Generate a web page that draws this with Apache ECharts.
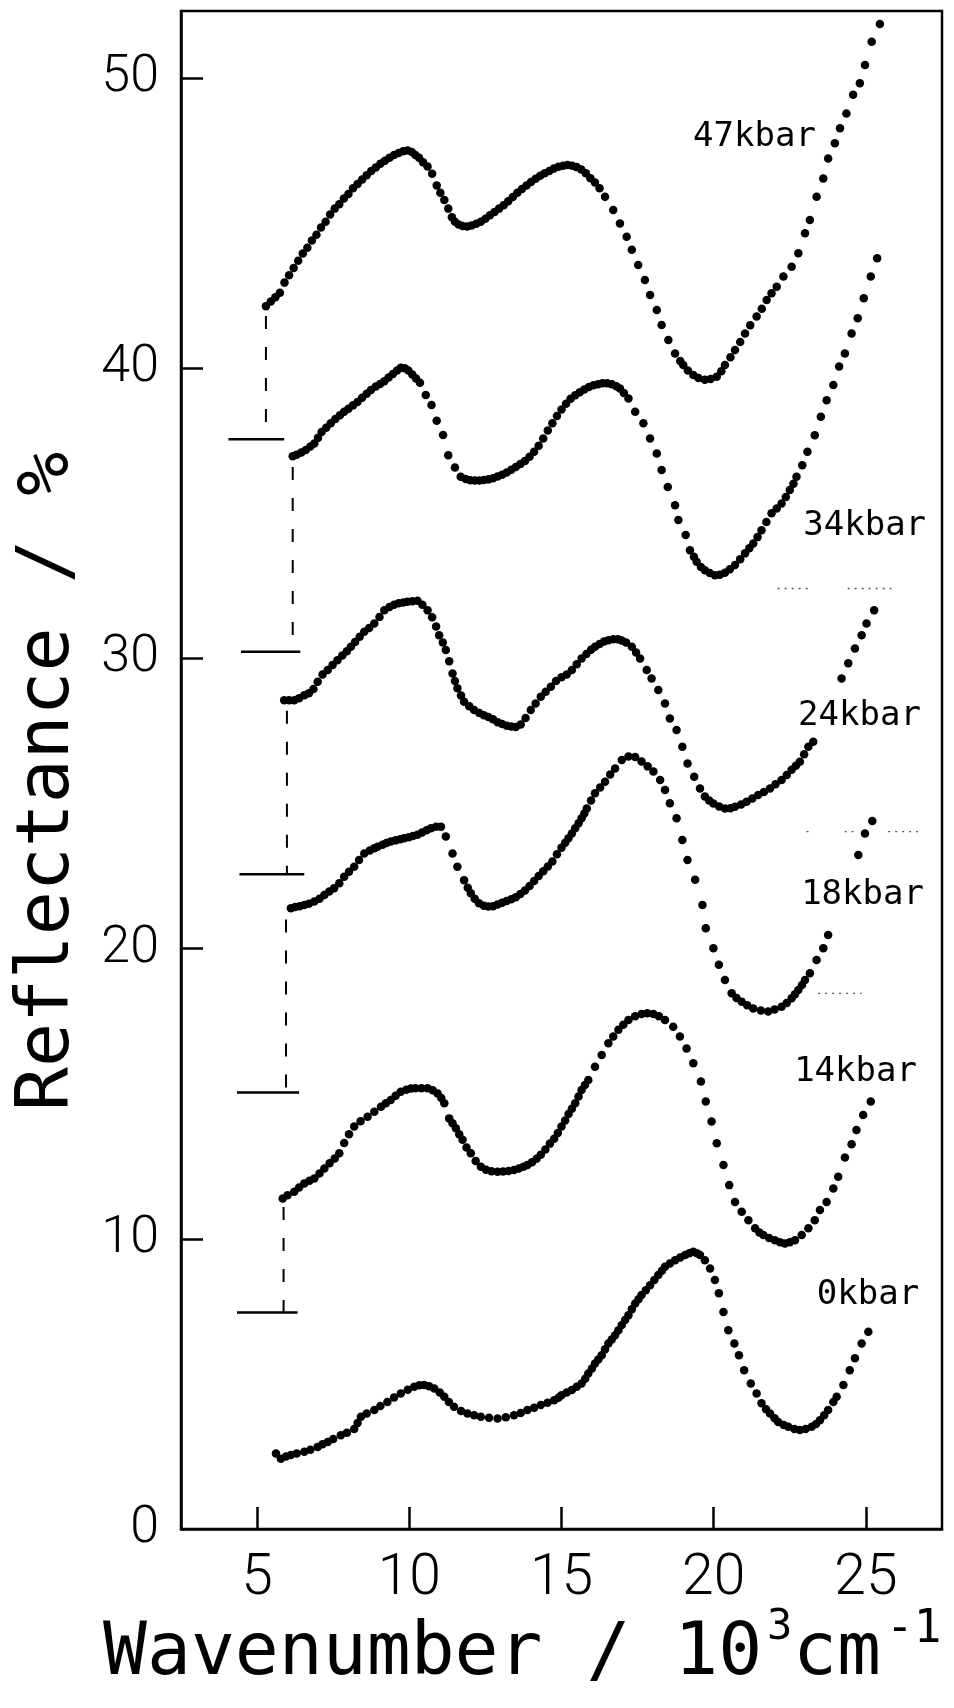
<!DOCTYPE html>
<html><head><meta charset="utf-8">
<script src="https://cdn.jsdelivr.net/npm/echarts@6/dist/echarts.min.js"></script>
<style>html,body{margin:0;padding:0;background:#fff;}#c{width:954px;height:1708px;}</style>
</head><body><div id="c"></div>
<script>
// ---- tick values ----
const xTicks = [5, 10, 15, 20, 25];
const yTickLabels = [0, 10, 20, 30, 40, 50];
const yTickMarks = [10, 20, 30, 40, 50];

// ---- spectra: [wavenumber (10^3 cm^-1), reflectance (%)] ----
const p47 = [[5.29,42.14],[5.45,42.3],[5.6,42.45],[5.75,42.6],[5.9,42.95],[6.05,43.2],[6.2,43.45],[6.35,43.7],[6.5,43.95],[6.65,44.15],[6.8,44.4],[6.95,44.6],[7.1,44.85],[7.25,45.05],[7.4,45.3],[7.55,45.5],[7.7,45.65],[7.85,45.85],[8.0,46.0],[8.15,46.2],[8.3,46.35],[8.45,46.5],[8.6,46.65],[8.75,46.8],[8.9,46.92],[9.05,47.05],[9.2,47.15],[9.35,47.25],[9.5,47.35],[9.65,47.42],[9.8,47.48],[9.95,47.5],[10.08,47.45],[10.2,47.35],[10.32,47.25],[10.45,47.1],[10.6,46.95],[10.75,46.7],[10.9,46.3],[11.02,46.05],[11.15,45.8],[11.28,45.5],[11.4,45.2],[11.5,45.05],[11.62,44.95],[11.75,44.9],[11.9,44.88],[12.05,44.92],[12.2,44.98],[12.35,45.05],[12.5,45.15],[12.65,45.27],[12.8,45.38],[12.95,45.5],[13.1,45.62],[13.25,45.75],[13.4,45.9],[13.55,46.05],[13.7,46.18],[13.85,46.3],[14.0,46.42],[14.15,46.53],[14.3,46.63],[14.45,46.72],[14.6,46.8],[14.75,46.88],[14.9,46.94],[15.05,46.98],[15.2,47.0],[15.35,46.98],[15.5,46.93],[15.65,46.85],[15.8,46.72],[15.95,46.55],[16.1,46.4],[16.25,46.2],[16.43,45.91],[16.7,45.45],[16.92,44.99],[17.14,44.53],[17.31,44.08],[17.52,43.56],[17.74,43.04],[17.91,42.52],[18.13,42.01],[18.29,41.49],[18.51,40.97],[18.73,40.51],[18.9,40.25],[19.0,40.11],[19.15,39.92],[19.33,39.77],[19.5,39.66],[19.71,39.6],[19.9,39.63],[20.1,39.71],[20.25,39.9],[20.37,40.11],[20.55,40.38],[20.7,40.63],[20.87,40.9],[21.03,41.2],[21.2,41.48],[21.41,41.78],[21.58,42.05],[21.74,42.35],[21.9,42.58],[22.07,42.81],[22.29,43.16],[22.56,43.5],[22.78,43.96],[23.0,44.65],[23.16,45.11],[23.38,45.91],[23.6,46.54],[23.76,47.23],[23.98,47.75],[24.15,48.27],[24.36,48.78],[24.58,49.42],[24.8,49.82],[24.97,50.45],[25.19,51.25],[25.46,51.86]];

const p34 = [[6.17,36.97],[6.3,37.02],[6.45,37.1],[6.6,37.18],[6.75,37.3],[6.88,37.41],[7.0,37.6],[7.12,37.8],[7.27,37.95],[7.42,38.1],[7.57,38.25],[7.72,38.38],[7.86,38.5],[8.0,38.6],[8.15,38.72],[8.3,38.84],[8.45,38.98],[8.6,39.12],[8.74,39.25],[8.9,39.37],[9.04,39.46],[9.18,39.55],[9.32,39.68],[9.46,39.8],[9.6,39.92],[9.72,40.02],[9.85,40.0],[9.97,39.92],[10.1,39.78],[10.22,39.65],[10.35,39.5],[10.54,39.08],[10.73,38.73],[10.9,38.19],[11.11,37.7],[11.28,37.0],[11.5,36.58],[11.69,36.26],[11.85,36.18],[12.0,36.14],[12.15,36.13],[12.3,36.13],[12.45,36.15],[12.6,36.17],[12.75,36.21],[12.9,36.27],[13.05,36.33],[13.2,36.41],[13.35,36.5],[13.5,36.6],[13.65,36.7],[13.8,36.8],[13.95,36.95],[14.1,37.12],[14.25,37.33],[14.4,37.58],[14.55,37.85],[14.7,38.1],[14.85,38.35],[15.0,38.58],[15.15,38.78],[15.3,38.95],[15.45,39.07],[15.6,39.17],[15.75,39.27],[15.9,39.35],[16.05,39.41],[16.2,39.45],[16.35,39.48],[16.5,39.48],[16.65,39.45],[16.8,39.38],[16.92,39.3],[17.05,39.15],[17.2,38.96],[17.42,38.5],[17.69,38.1],[17.91,37.58],[18.13,37.06],[18.29,36.49],[18.49,35.91],[18.73,35.28],[18.84,34.77],[19.08,34.25],[19.22,33.73],[19.35,33.5],[19.44,33.33],[19.58,33.15],[19.71,33.04],[19.87,32.94],[20.04,32.87],[20.2,32.88],[20.37,32.95],[20.53,33.07],[20.7,33.22],[20.87,33.42],[21.03,33.62],[21.17,33.8],[21.3,33.96],[21.44,34.18],[21.57,34.42],[21.73,34.7],[21.9,35.0],[22.07,35.17],[22.23,35.34],[22.37,35.56],[22.5,35.8],[22.62,36.02],[22.72,36.26],[22.91,36.66],[23.08,37.12],[23.32,37.69],[23.52,38.33],[23.71,38.9],[23.93,39.42],[24.12,40.06],[24.31,40.51],[24.53,41.2],[24.73,41.72],[24.93,42.41],[25.16,43.16],[25.37,43.79]];

const p24 = [[5.89,28.56],[6.05,28.56],[6.22,28.56],[6.38,28.63],[6.55,28.73],[6.7,28.8],[6.85,28.95],[6.99,29.2],[7.15,29.45],[7.32,29.6],[7.48,29.77],[7.64,29.94],[7.8,30.1],[7.95,30.25],[8.08,30.4],[8.22,30.57],[8.37,30.75],[8.52,30.92],[8.68,31.05],[8.85,31.2],[9.02,31.43],[9.18,31.66],[9.35,31.77],[9.5,31.85],[9.65,31.9],[9.8,31.93],[9.94,31.95],[10.1,31.97],[10.27,31.99],[10.43,31.85],[10.6,31.66],[10.75,31.42],[10.88,31.1],[10.98,30.8],[11.1,30.55],[11.2,30.29],[11.31,29.9],[11.42,29.48],[11.5,29.22],[11.58,28.97],[11.7,28.72],[11.8,28.51],[11.97,28.35],[12.13,28.22],[12.3,28.12],[12.45,28.04],[12.6,27.98],[12.75,27.9],[12.9,27.8],[13.05,27.74],[13.2,27.68],[13.35,27.65],[13.5,27.64],[13.66,27.72],[13.82,27.95],[13.99,28.22],[14.15,28.45],[14.32,28.68],[14.48,28.85],[14.65,29.02],[14.82,29.22],[15.0,29.35],[15.17,29.45],[15.34,29.6],[15.5,29.8],[15.66,30.0],[15.82,30.15],[15.97,30.3],[16.1,30.4],[16.25,30.5],[16.4,30.58],[16.54,30.63],[16.7,30.66],[16.85,30.66],[16.98,30.62],[17.12,30.55],[17.31,30.4],[17.45,30.2],[17.58,30.0],[17.8,29.6],[17.96,29.31],[18.18,28.91],[18.4,28.45],[18.56,27.93],[18.78,27.53],[18.97,26.96],[19.14,26.38],[19.36,25.92],[19.55,25.52],[19.71,25.24],[19.85,25.1],[19.99,25.0],[20.18,24.9],[20.37,24.83],[20.55,24.84],[20.7,24.89],[20.9,24.97],[21.08,25.06],[21.27,25.17],[21.46,25.29],[21.65,25.4],[21.85,25.52],[22.03,25.66],[22.23,25.81],[22.4,25.98],[22.56,26.16],[22.7,26.3],[22.83,26.44],[22.97,26.7],[23.11,26.96],[23.27,27.13],[24.2,29.31],[24.42,29.83],[24.64,30.34],[24.86,30.8],[25.02,31.2],[25.27,31.66]];

const p18 = [[6.11,21.39],[6.25,21.43],[6.4,21.46],[6.55,21.5],[6.7,21.55],[6.88,21.62],[7.05,21.72],[7.21,21.85],[7.37,21.97],[7.53,22.08],[7.7,22.25],[7.86,22.48],[8.02,22.65],[8.19,22.82],[8.35,23.05],[8.52,23.28],[8.7,23.38],[8.85,23.46],[8.96,23.51],[9.12,23.58],[9.25,23.64],[9.39,23.69],[9.55,23.73],[9.7,23.77],[9.83,23.8],[9.98,23.84],[10.12,23.88],[10.27,23.92],[10.42,24.0],[10.57,24.08],[10.71,24.15],[10.88,24.2],[11.04,24.2],[11.2,23.86],[11.42,23.28],[11.58,22.82],[11.8,22.36],[11.92,22.1],[12.02,21.91],[12.15,21.72],[12.29,21.56],[12.45,21.48],[12.6,21.45],[12.75,21.46],[12.9,21.52],[13.05,21.58],[13.2,21.64],[13.35,21.7],[13.5,21.77],[13.65,21.88],[13.8,22.0],[13.95,22.16],[14.1,22.33],[14.25,22.5],[14.4,22.67],[14.55,22.83],[14.7,23.0],[14.85,23.25],[15.0,23.48],[15.12,23.65],[15.23,23.8],[15.34,23.97],[15.45,24.15],[15.56,24.32],[15.66,24.49],[15.75,24.66],[15.83,24.83],[15.97,25.1],[16.1,25.35],[16.27,25.55],[16.43,25.75],[16.6,26.0],[16.76,26.21],[16.98,26.5],[17.2,26.62],[17.42,26.6],[17.63,26.45],[17.83,26.28],[18.02,26.1],[18.24,25.81],[18.4,25.47],[18.56,25.01],[18.78,24.49],[18.97,23.74],[19.14,23.05],[19.39,22.37],[19.63,21.5],[19.74,20.7],[19.99,20.01],[20.17,19.44],[20.37,18.92],[20.59,18.46],[20.75,18.3],[20.92,18.17],[21.1,18.05],[21.3,17.94],[21.55,17.87],[21.79,17.83],[22.0,17.9],[22.23,18.0],[22.4,18.13],[22.56,18.29],[22.67,18.43],[22.78,18.57],[22.9,18.75],[23.0,18.92],[23.16,19.15],[23.38,19.61],[23.6,20.01],[23.76,20.47],[24.75,23.23],[24.97,23.97],[25.21,24.4]];

const p14 = [[5.84,11.39],[6.0,11.5],[6.22,11.62],[6.38,11.77],[6.55,11.91],[6.72,12.0],[6.88,12.08],[7.05,12.25],[7.21,12.42],[7.38,12.6],[7.55,12.77],[7.7,12.95],[7.86,13.3],[8.02,13.6],[8.19,13.87],[8.4,14.05],[8.63,14.21],[8.85,14.38],[9.07,14.55],[9.23,14.67],[9.39,14.78],[9.55,14.93],[9.72,15.07],[9.9,15.14],[10.05,15.18],[10.2,15.19],[10.4,15.19],[10.6,15.19],[10.77,15.12],[10.93,15.01],[11.05,14.85],[11.15,14.67],[11.31,14.15],[11.42,13.98],[11.53,13.81],[11.64,13.6],[11.75,13.41],[11.88,13.15],[12.02,12.95],[12.18,12.68],[12.35,12.48],[12.52,12.38],[12.7,12.33],[12.9,12.31],[13.08,12.32],[13.26,12.34],[13.44,12.37],[13.6,12.42],[13.75,12.48],[13.88,12.54],[14.03,12.64],[14.18,12.76],[14.32,12.9],[14.47,13.08],[14.62,13.28],[14.76,13.45],[14.88,13.65],[15.0,13.87],[15.12,14.08],[15.23,14.3],[15.34,14.48],[15.45,14.67],[15.56,14.9],[15.66,15.13],[15.77,15.3],[15.88,15.47],[16.1,15.93],[16.32,16.33],[16.54,16.74],[16.7,16.97],[16.87,17.2],[17.03,17.38],[17.2,17.54],[17.42,17.67],[17.63,17.75],[17.82,17.77],[18.02,17.75],[18.2,17.67],[18.4,17.54],[18.67,17.31],[18.89,16.97],[19.11,16.56],[19.33,16.05],[19.58,15.42],[19.74,14.73],[19.93,14.04],[20.1,13.29],[20.32,12.54],[20.51,11.85],[20.7,11.27],[20.92,10.93],[21.14,10.64],[21.36,10.36],[21.5,10.22],[21.63,10.13],[21.82,10.03],[22.01,9.95],[22.18,9.88],[22.34,9.84],[22.5,9.88],[22.67,9.95],[22.89,10.13],[23.11,10.36],[23.32,10.64],[23.49,10.99],[23.71,11.27],[23.93,11.73],[24.09,12.14],[24.31,12.8],[24.53,13.26],[24.69,13.75],[24.91,14.27],[25.16,14.73]];

const p0 = [[5.62,2.6],[5.78,2.42],[5.95,2.5],[6.11,2.55],[6.3,2.6],[6.55,2.66],[6.75,2.73],[6.99,2.83],[7.15,2.92],[7.32,3.0],[7.5,3.1],[7.75,3.23],[7.95,3.32],[8.19,3.45],[8.3,3.65],[8.41,3.87],[8.6,3.98],[8.85,4.1],[9.05,4.24],[9.28,4.38],[9.5,4.53],[9.72,4.67],[9.95,4.8],[10.16,4.9],[10.33,4.95],[10.49,4.96],[10.65,4.92],[10.82,4.84],[11.0,4.7],[11.15,4.56],[11.3,4.38],[11.47,4.21],[11.7,4.07],[11.91,3.98],[12.13,3.92],[12.35,3.87],[12.62,3.83],[12.9,3.81],[13.17,3.85],[13.44,3.92],[13.66,4.0],[13.88,4.1],[14.1,4.18],[14.32,4.27],[14.54,4.35],[14.76,4.44],[14.9,4.52],[15.0,4.61],[15.17,4.7],[15.34,4.79],[15.5,4.9],[15.66,5.01],[15.78,5.18],[15.88,5.36],[16.0,5.53],[16.1,5.7],[16.21,5.84],[16.32,5.99],[16.43,6.19],[16.54,6.39],[16.65,6.53],[16.76,6.68],[16.87,6.85],[16.98,7.03],[17.09,7.2],[17.2,7.37],[17.31,7.57],[17.42,7.77],[17.53,7.92],[17.63,8.06],[17.77,8.23],[17.91,8.4],[18.05,8.58],[18.18,8.75],[18.3,8.9],[18.4,9.04],[18.56,9.15],[18.73,9.26],[18.9,9.36],[19.06,9.44],[19.2,9.5],[19.33,9.55],[19.45,9.5],[19.55,9.44],[19.71,9.26],[19.88,8.98],[20.04,8.58],[20.17,8.12],[20.32,7.48],[20.48,6.85],[20.68,6.39],[20.83,5.99],[21.0,5.47],[21.22,5.01],[21.41,4.67],[21.57,4.33],[21.72,4.13],[21.85,3.98],[22.0,3.82],[22.12,3.69],[22.3,3.58],[22.45,3.52],[22.65,3.45],[22.83,3.41],[23.02,3.45],[23.22,3.52],[23.36,3.62],[23.49,3.75],[23.63,3.92],[23.76,4.1],[23.93,4.38],[24.04,4.56],[24.26,4.96],[24.47,5.47],[24.64,5.88],[24.86,6.39],[25.08,6.8]];

// ---- curve labels: text and anchor [x, y] in data units ----
const labelNames = ['47kbar', '34kbar', '24kbar', '18kbar', '14kbar', '0kbar'];
const labelAnchors = [[21.34,47.95],[24.96,34.55],[24.79,28.0],[24.89,21.85],[24.66,15.75],[25.07,8.05]];

// ---- offset markers: x, dashed top, base level, bar from, bar to ----
const markerX     = [5.29, 6.17, 5.98, 5.95, 5.87];
const markerTop   = [41.8, 36.6, 28.2, 21.0, 11.1];
const markerBase  = [37.55, 30.23, 22.56, 15.04, 7.46];
const markerFrom  = [4.06, 4.47, 4.42, 4.34, 4.34];
const markerTo    = [5.89, 6.42, 6.55, 6.38, 6.33];

// ---- faint stray dotted marks on the scan: [y, x0, x1] ----
const strayMarks = [[32.41,22.1,23.16],[32.41,24.4,25.84],[24.03,23.05,23.27],[24.03,24.3,24.64],[24.03,25.73,26.72],[18.46,23.43,24.86]];

const chart = echarts.init(document.getElementById('c'), null, {renderer:'canvas', width:954, height:1708});

const MONO = 'DejaVu Sans Mono';
const TICKFONT = "Roboto, 'DejaVu Sans'";

const series = [];
const curves = [['47kbar',p47],['34kbar',p34],['24kbar',p24],['18kbar',p18],['14kbar',p14],['0kbar',p0]];
curves.forEach(([n, d]) => series.push({
  type:'scatter', name:n, data:d, symbol:'circle', symbolSize:8.5,
  itemStyle:{color:'#000', opacity:1}, silent:true, z:3
}));
markerX.forEach((x, i) => {
  series.push({type:'line', data:[[x, markerTop[i]],[x, markerBase[i]]], symbol:'none', silent:true,
    lineStyle:{color:'#000', width:2, type:[13,18]}});
  series.push({type:'line', data:[[markerFrom[i], markerBase[i]],[markerTo[i], markerBase[i]]], symbol:'none', silent:true,
    lineStyle:{color:'#000', width:2.5}});
});
strayMarks.forEach(s => series.push({type:'line', data:[[s[1], s[0]],[s[2], s[0]]], symbol:'none', silent:true,
  lineStyle:{color:'#555', width:1.3, type:[2,5]}}));
series.push({
  type:'scatter', data: labelAnchors.map((a, i) => ({value:a, name:labelNames[i]})),
  symbolSize:1, itemStyle:{color:'rgba(0,0,0,0)', opacity:1}, silent:true, z:4,
  label:{show:true, position:'inside', formatter:'{b}', fontFamily:MONO, fontSize:34,
         color:'#000', textBorderWidth:0, opacity:1}
});

chart.setOption({
  animation:false,
  backgroundColor:'#fff',
  grid:{left:181, right:12, top:11, bottom:179, show:true, borderColor:'#000', borderWidth:2.5, backgroundColor:'transparent'},
  xAxis:{
    type:'value', min:2.5, max:27.5,
    axisLine:{show:true, lineStyle:{color:'#000', width:2.5}},
    axisTick:{show:true, inside:true, length:22, customValues:xTicks, lineStyle:{color:'#000', width:2.5}},
    axisLabel:{show:true, customValues:xTicks, margin:22, fontSize:57, fontWeight:300, fontFamily:TICKFONT, color:'#000'},
    splitLine:{show:false}
  },
  yAxis:{
    type:'value', min:0, max:52.31,
    axisLine:{show:true, lineStyle:{color:'#000', width:2.5}},
    axisTick:{show:true, inside:true, length:22, customValues:yTickMarks, lineStyle:{color:'#000', width:2.5}},
    axisLabel:{show:true, customValues:yTickLabels, margin:22, fontSize:52, fontWeight:300, fontFamily:TICKFONT, color:'#000'},
    splitLine:{show:false}
  },
  graphic:[
    {type:'text', x:103, y:1655, silent:true,
     style:{text:'Wavenumber / 10', fontSize:73, fontFamily:MONO, fill:'#000', align:'left', verticalAlign:'middle'}},
    {type:'text', x:767, y:1628, silent:true,
     style:{text:'3', fontSize:42, fontFamily:MONO, fill:'#000', align:'left', verticalAlign:'middle'}},
    {type:'text', x:793, y:1655, silent:true,
     style:{text:'cm', fontSize:73, fontFamily:MONO, fill:'#000', align:'left', verticalAlign:'middle'}},
    {type:'text', x:886, y:1630, silent:true,
     style:{text:'-1', fontSize:46, fontFamily:MONO, fill:'#000', align:'left', verticalAlign:'middle'}},
    {type:'text', x:49, y:1111, rotation:Math.PI/2, silent:true,
     style:{text:'Reflectance / %', fontSize:73, fontFamily:MONO, fill:'#000', align:'left', verticalAlign:'middle'}}
  ],
  series: series
});
</script>
</body></html>
